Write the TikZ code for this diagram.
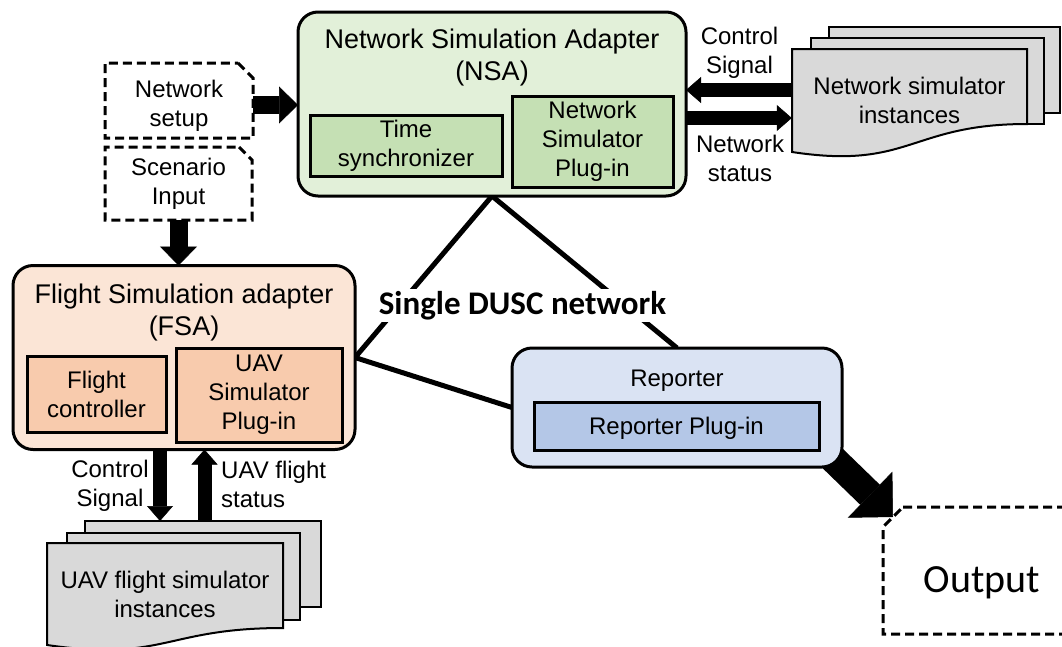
\documentclass[tikz,border=0pt]{standalone}
\usepackage{fontspec}
\setmainfont{Liberation Sans}
\newfontfamily\carlitofont{Carlito}
\usetikzlibrary{arrows.meta}

\definecolor{nsafill}{HTML}{E2F0D9}
\definecolor{nsainner}{HTML}{C5E0B4}
\definecolor{fsafill}{HTML}{FBE5D6}
\definecolor{fsainner}{HTML}{F8CBAD}
\definecolor{repfill}{HTML}{DAE3F3}
\definecolor{repinner}{HTML}{B4C7E7}
\definecolor{docgray}{HTML}{D9D9D9}

\tikzset{
  txt/.style={font=\fontsize{24}{29}\selectfont, align=center, inner sep=0pt},
  ttl/.style={font=\fontsize{27}{32}\selectfont, align=center, inner sep=0pt},
  holder/.style={inner sep=0pt, outer sep=0pt},
  container/.style={draw, line width=3pt, rounded corners=20pt, inner sep=0pt, outer sep=0pt},
  innerbox/.style={draw, line width=3pt, inner sep=0pt, outer sep=0pt,
    font=\fontsize{24}{29}\selectfont, align=center},
  inputbox/.style={draw, line width=3pt, dash pattern=on 9pt off 5pt, fill=white},
  docsheet/.style={draw, line width=2pt, fill=docgray},
  arrowS/.style={line width=14pt, -{Triangle[width=26pt,length=15pt,line width=0.5pt]}},
  arrowM/.style={line width=18pt, -{Triangle[width=37pt,length=19pt,line width=0.5pt]}},
  arrowL/.style={line width=28pt, -{Triangle[width=64pt,length=32pt,line width=0.5pt]}},
  link/.style={line width=5pt},
}

\begin{document}
\begin{tikzpicture}[x=1pt,y=-1pt]
\useasboundingbox (0,0) rectangle (1062,646);
\fill[white] (0,0) rectangle (1062,646);
\clip (0,0) rectangle (1062,646);

% ---- network simulator instances (stacked sheets) ----
\node[docsheet, holder, minimum width=231pt, minimum height=86pt] (nsback) at (944.5,70) {};
\node[docsheet, holder, minimum width=233pt, minimum height=86pt] (nsmid) at (927.5,81) {};
\path[docsheet] (792,49) -- (1027,49) -- (1027,124)
  .. controls (910,124) and (910,170) .. (792,152) -- cycle;
\node[txt, minimum width=235pt, minimum height=103pt] (nsdoc) at (909.5,100.5)
  {Network simulator\\instances};

% ---- UAV flight simulator instances (stacked sheets) ----
\node[docsheet, holder, minimum width=236pt, minimum height=86pt] (uavback) at (203,564) {};
\node[docsheet, holder, minimum width=233pt, minimum height=87pt] (uavmid) at (183.5,576.5) {};
\path[docsheet] (47,543) -- (283,543) -- (283,628)
  .. controls (165,628) and (165,662) .. (47,645) -- cycle;
\node[txt] (uavdoc) at (165,594.5) {UAV flight simulator\\instances};

% ---- links of the single network ----
\node[holder, minimum width=388pt, minimum height=184pt] (nsa) at (492,104) {};
\node[holder, minimum width=342pt, minimum height=184pt] (fsa) at (184,357.5) {};
\node[holder, minimum width=330pt, minimum height=119pt] (rep) at (677,407.5) {};
\draw[link] (nsa.south) -- (fsa.east) -- (rep.west);
\draw[link] (nsa.south) -- (rep.north);

% ---- reporter output arrow (starts beneath the reporter) ----
\node[holder, minimum width=200pt, minimum height=127pt] (outbox) at (983,570.5) {};
\coordinate (repout) at ([shift={(-16pt,15pt)}]rep.south east);
\coordinate (outcorner) at ([shift={(10pt,-10pt)}]outbox.north west);
\draw[arrowL] (repout) -- (outcorner);

% ---- Network Simulation Adapter ----
\node[container, fill=nsafill, minimum width=388pt, minimum height=184pt] at (nsa.center) {};
\node[ttl] (nsatitle) at (492,58) {Network Simulation Adapter\\(NSA)};
\node[innerbox, fill=nsainner, minimum width=192pt, minimum height=61pt] (tsync) at (406,145.5)
  {Time\\synchronizer};
\node[innerbox, fill=nsainner, minimum width=161pt, minimum height=91pt] (nsplug) at (592.5,141.5)
  {Network\\Simulator\\Plug-in};

% ---- Flight Simulation adapter ----
\node[container, fill=fsafill, minimum width=342pt, minimum height=184pt] at (fsa.center) {};
\node[ttl] (fsatitle) at (184,312.5) {Flight Simulation adapter\\(FSA)};
\node[innerbox, fill=fsainner, minimum width=139pt, minimum height=76pt] (fctrl) at (96.5,394)
  {Flight\\controller};
\node[innerbox, fill=fsainner, minimum width=166pt, minimum height=94pt] (uavplug) at (259,395)
  {UAV\\Simulator\\Plug-in};

% ---- Reporter ----
\node[container, fill=repfill, minimum width=330pt, minimum height=119pt] at (rep.center) {};
\node[txt] (reptitle) at (677,380.5) {Reporter};
\node[innerbox, fill=repinner, minimum width=285pt, minimum height=48pt, text depth=0pt]
  (repplug) at (676.5,426) {Reporter Plug-in};

% ---- inputs ----
\node[holder, minimum width=148pt, minimum height=75pt] (nsetup) at (179,100.5) {};
\path[inputbox] ([xshift=-15pt]nsetup.north east) -- ([yshift=-15pt]nsetup.north east)
  -- (nsetup.south east) -- (nsetup.south west) -- (nsetup.north west) -- cycle;
\node[txt] (nsetupt) at (179,105.4) {Network\\setup};

\node[holder, minimum width=147pt, minimum height=73pt] (scen) at (178.5,183.5) {};
\path[inputbox] ([xshift=-13pt]scen.north east) -- ([yshift=-13pt]scen.north east)
  -- (scen.south east) -- (scen.south west) -- (scen.north west) -- cycle;
\node[txt] (scent) at (178.5,183.5) {Scenario\\Input};

% ---- output ----
\path[inputbox] ([xshift=20pt]outbox.north west) -- (outbox.north east) -- (outbox.south east)
  -- (outbox.south west) -- ([yshift=-20pt]outbox.north west) -- cycle;
\node[inner sep=0pt, anchor=base, font=\carlitofont\fontsize{40}{48}\selectfont] (outtext)
  at (982,592) {Output};

% ---- block arrows ----
\draw[arrowM] ([yshift=-4.5pt]nsetup.east) -- ([yshift=-4.5pt]nsetup.east -| nsa.west);
\draw[arrowM] (scen.south) -- (scen.south |- fsa.north);
\draw[arrowS] ([yshift=10.5pt]nsdoc.west) -- ([yshift=10.5pt]nsdoc.west -| nsa.east);
\draw[arrowS] ([yshift=-17.5pt]nsdoc.west -| nsa.east) -- ([yshift=-17.5pt]nsdoc.west);
\draw[arrowS] ([xshift=-24pt]fsa.south) -- ([xshift=-24pt]fsa.south |- uavback.north);
\draw[arrowS] ([xshift=20.5pt]fsa.south |- uavback.north) -- ([xshift=20.5pt]fsa.south);

% ---- arrow labels ----
\node[txt] (ctrlsigR) at (739.5,53) {Control\\Signal};
\node[txt] (netstat) at (740,158) {Network\\status};
\node[txt] (ctrlsigL) at (110,485.4) {Control\\Signal};
\node[txt, align=left, anchor=west] (uavstat) at (221,484) {UAV flight\\status};

% ---- network label ----
\node[fill=white, inner sep=2pt, anchor=base,
  font=\carlitofont\bfseries\fontsize{33}{40}\selectfont] (dusc) at (522.5,314.3)
  {Single DUSC network};
\end{tikzpicture}
\end{document}
